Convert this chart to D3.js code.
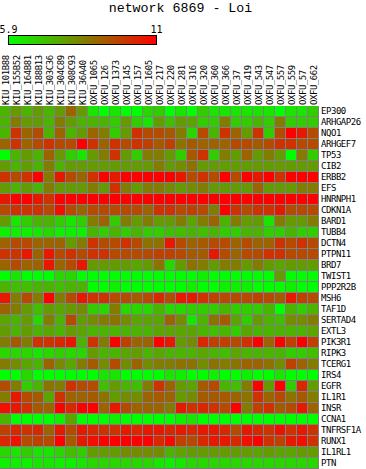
<!DOCTYPE html>
<html>
<head>
<meta charset="utf-8">
<script src="https://cdnjs.cloudflare.com/ajax/libs/d3/7.8.5/d3.min.js"></script>
<style>
html, body { margin: 0; padding: 0; background: #fff; }
svg { display: block; }
text { font-family: "DejaVu Sans Mono", monospace; fill: #000; }
.genes text, .samples text { font-size: 9px; letter-spacing: -0.45px; }
</style>
</head>
<body>
<svg id="chart" width="366" height="469"></svg>
<script>
const title = 'network 6869 - Loi';
const min_val = 5.9;
const max_val = 11;

const samples = ['KIU_101B88','KIU_155B52','KIU_164B81','KIU_188B13','KIU_303C36','KIU_304C89','KIU_308C93','KIU_36A40',
    'OXFU_1065','OXFU_126','OXFU_1373','OXFU_145','OXFU_157','OXFU_1605','OXFU_217','OXFU_220','OXFU_281','OXFU_316',
    'OXFU_320','OXFU_360','OXFU_366','OXFU_37','OXFU_419','OXFU_543','OXFU_547','OXFU_557','OXFU_559','OXFU_57','OXFU_662'];

const genes = ['EP300','ARHGAP26','NQO1','ARHGEF7','TP53','CIB2','ERBB2','EFS','HNRNPH1','CDKN1A','BARD1','TUBB4','DCTN4',
    'PTPN11','BRD7','TWIST1','PPP2R2B','MSH6','TAF1D','SERTAD4','EXTL3','PIK3R1','RIPK3','TCERG1','IRS4','EGFR','IL1R1',
    'INSR','CCNA1','TNFRSF1A','RUNX1','IL1RL1','PTN'];

// expression per gene, one value per sample, read by eye from the colours
const ep300 = [7.4,7.9,7.4,7.9,7.4,7.9,9.0,7.9,6.4,5.9,6.4,5.9,5.9,6.7,6.9,5.9,6.4,5.9,6.9,6.4,6.4,6.4,6.4,6.4,6.4,5.9,6.4,6.4,6.9];
const arhgap26 = [7.4,8.5,7.9,7.9,7.4,8.5,7.9,7.4,7.4,7.4,6.9,7.9,6.9,6.4,7.9,7.2,7.9,7.7,6.9,6.9,8.5,6.9,6.9,7.4,6.9,8.5,6.9,6.9,6.9];
const nqo1 = [7.4,10,9,9.5,7.4,9,7.4,7.9,9,8.5,6.9,7.9,10,9.5,9.5,9.2,8.5,6.7,9.5,7.4,10,9,7.9,10,6.9,9.5,11,10.5,9.5];
const arhgef7 = [9,10,9,9.5,10,9.5,9.5,11,10,9,10,9.5,10,9.7,9.2,9.7,8.7,9.2,9,9,9,9.5,9.5,9.2,9.5,10,10,9.5,9.5];
const tp53 = [5.9,7.4,7.9,7.4,9,7.9,6.9,6.4,7.9,8.5,10,7.9,6.9,8.5,8.5,7.9,6.9,9.2,10,6.9,8.5,7.9,9,7.9,8.5,7.9,5.9,8.5,6.9];
const cib2 = [7.9,7.4,7.9,7.4,8.5,7.4,7.9,7.9,7.9,7.9,7.9,7.9,7.9,7.9,8.5,7.9,8.2,8.7,7.9,7.9,7.9,7.9,7.9,7.9,7.9,7.9,7.9,7.9,7.9];
const erbb2 = [10,9.5,10,11,8.5,10.5,9.5,9,10,11,10.5,11,11,11,11,11,10.5,9.5,10,9.5,11,9.5,11,10.5,11,10,11,11,11];
const efs = [7.9,7.4,7.9,7.4,8.5,7.9,7.9,7.9,8.5,7.9,10,8.5,7.9,8.5,8.5,8.2,7.9,8.2,8.5,7.9,7.9,7.9,7.9,9,7.9,7.9,7.9,8.5,8.5];
const hnrnph1 = [10.5,11,11,10.5,10,11,11,11,11,11,11,11,11,11,11,11,11,11,11,11,11,11,11,11,11,11,11,11,11];
const cdkn1a = [9.5,10,10,10,9.5,10.7,9.5,9,9.5,9.5,9.5,9.5,9.5,9,10,10,9.5,9.7,9.5,8.5,11,10,9.5,10,10,10.5,9.5,9.5,9.5];
const bard1 = [7.9,6.4,6.9,7.4,7.4,6.9,6.4,6.9,8.5,9,6.9,8.5,7.9,8.5,7.9,7.9,8.5,7.7,8.5,9,7.4,8.5,7.9,7.9,6.4,8.5,7.9,7.9,8.5];
const tubb4 = [6.2,6.2,6.2,6.4,6.7,6.2,6.2,6.2,7.4,6.9,7.4,6.9,7.4,6.9,6.9,7.2,7.2,7.4,7.2,7.4,6.9,6.9,7.4,7.4,6.9,6.9,7.4,6.9,6.9];
const dctn4 = [9,9.5,9.5,9,9,9,7.9,8.5,10,9.5,9.5,10,9.5,8.7,8.7,10.5,9.5,9,9.2,9.5,9.5,9,9.5,9,9,10,9.5,10,9.5];
const ptpn11 = [10,10,10.5,9,10.5,9.5,10,9.5,10,10,9.5,9.5,9.5,9.5,9.7,9.7,9.5,9.2,9.2,10.5,9.5,9,9.5,9.5,10,10,9.5,9.5,9.5];
const brd7 = [9,9.5,9,9,10.5,9,9.5,10.5,7.9,7.9,7.9,7.9,7.7,7.9,8.7,6.7,7.9,8.7,8.5,7.9,8.5,8.5,7.9,8.5,7.9,7.7,7.9,7.9,7.9];
const twist1 = [5.9,6.4,5.9,5.9,5.9,6.7,6.7,5.9,5.9,5.9,5.9,5.9,5.9,5.9,5.9,5.9,5.9,5.9,6.2,5.9,5.9,5.9,5.9,5.9,5.9,7.9,5.9,5.9,5.9];
const ppp2r2b = [7.4,7.2,7.2,7.4,7.4,7.2,7.4,7.4,5.9,5.9,6.2,5.9,5.9,5.9,5.9,5.9,5.9,6.2,5.9,5.9,6.2,6.2,6.2,5.9,5.9,5.9,6.2,5.9,5.9];
const msh6 = [10.5,8.5,9.5,8.5,11,8.5,9.5,10.5,10,10,9.5,9.5,9.2,9.5,10.2,9.5,10.5,10.5,10,9.7,9.5,9.5,9.5,9.7,9.5,9.2,10.5,9.7,9.5];
const taf1d = [9,8.5,7.9,7.2,7.9,7.7,7.9,8.2,6.9,6.7,8.5,6.7,6.7,6.7,7.4,6.7,6.7,6.9,6.9,6.9,7.4,6.9,6.9,6.9,7.4,5.9,7.4,6.9,7.4];
const sertad4 = [7.7,7.4,7.9,6.7,8.5,7.4,9.5,7.9,8.2,8.5,8.7,8.2,7.7,7.7,7.7,9,8.2,6.4,7.4,8.7,9.2,7.7,6.9,7.9,7.4,7.2,8.2,8.2,8.5];
const extl3 = [7.9,7.4,7.9,7.4,7.7,7.4,7.9,7.7,7.4,7.4,7.4,7.4,7.4,7.4,7.7,7.7,7.7,7.7,7.4,7.2,7.4,6.9,7.7,7.4,7.4,7.4,7.4,7.4,7.7];
const pik3r1 = [8.5,9.2,8.5,10,10,10.2,10.5,7.4,10,8.5,11,9.7,9,9,11,10.5,7.9,8.2,10.2,9.7,9.7,9.5,10,11,9,11,9.7,11,9.7];
const ripk3 = [6.7,6.7,6.7,6.4,6.7,6.9,6.7,6.7,7.9,7.4,7.4,7.7,7.9,7.4,7.7,7.4,7.4,7.4,7.7,7.4,7.2,7.7,7.4,7.4,7.4,7.4,6.9,6.9,7.2];
const tcerg1 = [8.5,8.2,7.7,7.4,9,8.2,7.7,8.5,9.2,8.2,9.5,8.2,9,8.2,8.5,8.5,8.7,8.7,8.2,8.7,8.5,8.7,9,9,8.7,8.2,9.7,9,8.5];
const irs4 = [5.9,5.9,6.7,5.9,5.9,5.9,5.9,5.9,5.9,6.4,6.4,5.9,5.9,5.9,5.9,6.4,6.2,5.9,5.9,6.2,5.9,5.9,6.2,5.9,5.9,6.4,5.9,5.9,5.9];
const egfr = [9.5,8.5,6.9,7.4,8.7,8.5,10,9.5,9.5,7.2,7.9,7.4,7.2,8.5,10,9,7.9,7.7,9.2,9.5,7.4,7.2,8.5,11,7.9,11,6.9,10.2,7.9];
const il1r1 = [8.5,10.5,9.5,9.2,7.7,10,9,9,9.2,8.7,7.9,8.2,8.2,9,9.2,9,7.9,8.2,9.2,9.2,9.2,9,8.7,10,9,9.5,8.7,9.2,8.5];
const insr = [10.7,10.5,10,9.2,9,11,10.2,11,11,9,10.5,9.5,9,9,9,8.5,10.5,10,10.2,10,9.5,11,8.5,9.7,10,9.2,9.5,10.5,9];
const ccna1 = [7.4,5.9,5.9,5.9,5.9,6.2,7.7,5.9,5.9,5.9,6.2,5.9,5.9,5.9,5.9,5.9,6.2,6.4,5.9,5.9,5.9,5.9,5.9,5.9,5.9,5.9,5.9,5.9,5.9];
const tnfrsf1a = [9.7,10.2,10,10.2,9,10.5,9.5,10.5,10.2,10,10,10.5,10.2,10.5,10.5,10.2,10.5,10.2,10.5,10.5,10.2,9.5,10.5,10.2,10,10.7,10,10.5,10];
const runx1 = [10.2,10.7,9.5,9.7,9.5,11,9.2,10.5,10.7,11,11,11,11,11,10.2,10.8,9.7,9.5,10.2,10.5,10.5,10.2,10.7,11,10,9.7,10.5,10.7,10];
const il1rl1 = [6.7,6.4,6.9,6.4,6.4,6.7,7.2,6.9,7.9,7.9,7.9,8.2,8.2,8.2,8.2,7.4,7.7,7.9,7.9,7.9,7.9,7.9,7.9,7.7,7.9,7.7,7.7,7.9,7.9];
const ptn = [6.2,6.2,6.2,6.4,6.4,6.2,6.2,6.4,6.7,6.7,6.7,6.7,6.7,6.7,6.4,6.2,6.4,6.7,6.7,6.7,6.7,6.7,6.7,6.7,6.7,6.7,6.7,6.7,6.7];

const matrix = [ep300,arhgap26,nqo1,arhgef7,tp53,cib2,erbb2,efs,hnrnph1,cdkn1a,bard1,tubb4,dctn4,ptpn11,brd7,twist1,ppp2r2b,
    msh6,taf1d,sertad4,extl3,pik3r1,ripk3,tcerg1,irs4,egfr,il1r1,insr,ccna1,tnfrsf1a,runx1,il1rl1,ptn];

const top_y = 106;
const cell = 11;
const x = d3.scaleBand().domain(samples).range([0, samples.length * cell]);
const y = d3.scaleBand().domain(genes).range([top_y, top_y + genes.length * cell]);
const color = d3.scaleLinear().domain([min_val, max_val]).range(['#00ff00', '#ff0000']);
const legendX = d3.scaleLinear().domain([min_val, max_val]).range([8, 156]);

const svg = d3.select('#chart');

svg.append('text')
    .attr('x', 180.5)
    .attr('y', 12)
    .attr('text-anchor', 'middle')
    .style('font-family', '"Liberation Mono", monospace')
    .style('font-size', '13.3px')
    .text(title);

// legend
const grad = svg.append('defs').append('linearGradient').attr('id', 'legend_grad');
grad.selectAll('stop').data(legendX.domain()).enter().append('stop')
    .attr('offset', (d, i) => i)
    .attr('stop-color', d => color(d));

svg.append('rect')
    .attr('x', legendX(min_val) + 0.5)
    .attr('y', 35.5)
    .attr('width', legendX(max_val) - legendX(min_val))
    .attr('height', 9)
    .attr('fill', 'url(#legend_grad)')
    .attr('stroke', '#000');

svg.selectAll('.legend_label').data(legendX.domain()).enter().append('text')
    .attr('class', 'legend_label')
    .attr('x', d => legendX(d) + 0.5)
    .attr('y', 33)
    .attr('text-anchor', 'middle')
    .style('font-size', '10px')
    .text(d => d);

// grey shows through the 1px gap between the cells
svg.append('rect')
    .attr('x', 0)
    .attr('y', top_y)
    .attr('width', x.range()[1])
    .attr('height', y.range()[1] - top_y)
    .attr('fill', '#808080');

const row = svg.selectAll('.row').data(matrix).enter().append('g')
    .attr('class', 'row')
    .attr('transform', (d, i) => `translate(0,${y(genes[i])})`);

row.selectAll('rect').data(d => d).enter().append('rect')
    .attr('x', (d, i) => x(samples[i]))
    .attr('width', x.bandwidth() - 1)
    .attr('height', y.bandwidth() - 1)
    .attr('fill', d => color(d));

const geneAxis = svg.append('g')
    .attr('class', 'genes')
    .attr('transform', `translate(${x.range()[1]},0)`)
    .call(d3.axisRight(y).tickSize(0).tickPadding(2));
geneAxis.select('.domain').remove();
geneAxis.selectAll('text').attr('dy', '0.3em');

const sampleAxis = svg.append('g')
    .attr('class', 'samples')
    .attr('transform', `translate(0,${top_y - 1})`)
    .call(d3.axisTop(x).tickSize(0).tickPadding(0));
sampleAxis.select('.domain').remove();
sampleAxis.selectAll('text')
    .attr('text-anchor', 'start')
    .attr('dy', 0)
    .attr('transform', 'translate(3,0) rotate(-90)')
    .attr('x', 0)
    .attr('y', 0);
</script>
</body>
</html>
